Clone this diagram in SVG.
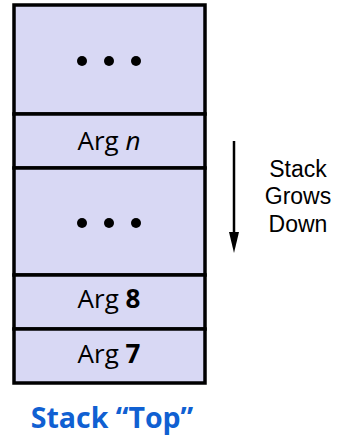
<svg xmlns="http://www.w3.org/2000/svg" width="337" height="438" viewBox="0 0 337 438">
<defs>
<style>
.cell{fill:#D8D8F4;stroke:#000;stroke-width:3.5}
.lbl{font-family:"Open Sans","Liberation Sans",sans-serif;font-size:26px;fill:#000;text-anchor:middle}
.dot{fill:#000}
.side{font-family:"Liberation Sans",Arial,sans-serif;font-size:23px;fill:#000;text-anchor:middle}
.title{font-family:"Open Sans","Liberation Sans",sans-serif;font-size:28.5px;font-weight:bold;fill:#1060D2;text-anchor:middle}
</style>
</defs>
<g id="cell-dots-top">
<rect class="cell" x="14" y="5" width="191" height="109"/>
<circle class="dot" cx="82" cy="61" r="5"/>
<circle class="dot" cx="109" cy="61" r="5"/>
<circle class="dot" cx="136" cy="61" r="5"/>
</g>
<g id="cell-argn">
<rect class="cell" x="14" y="114" width="191" height="54"/>
<text class="lbl" x="109" y="150">Arg <tspan font-style="italic">n</tspan></text>
</g>
<g id="cell-dots-mid">
<rect class="cell" x="14" y="168" width="191" height="107"/>
<circle class="dot" cx="82" cy="223" r="5"/>
<circle class="dot" cx="109" cy="223" r="5"/>
<circle class="dot" cx="136" cy="223" r="5"/>
</g>
<g id="cell-arg8">
<rect class="cell" x="14" y="275" width="191" height="54"/>
<text class="lbl" x="109" y="308">Arg <tspan font-weight="bold">8</tspan></text>
</g>
<g id="cell-arg7">
<rect class="cell" x="14" y="329" width="191" height="54"/>
<text class="lbl" x="109" y="363">Arg <tspan font-weight="bold">7</tspan></text>
</g>
<g id="connectors">
<line x1="234" y1="141" x2="234" y2="234" stroke="#000" stroke-width="2.5"/>
<path d="M229,232 L239,232 L234,253 Z" fill="#000"/>
</g>
<g id="label-grows">
<text class="side" x="298" y="177">Stack</text>
<text class="side" x="298" y="204">Grows</text>
<text class="side" x="298" y="232">Down</text>
</g>
<g id="label-top">
<text class="title" x="112" y="428">Stack “Top”</text>
</g>
</svg>
